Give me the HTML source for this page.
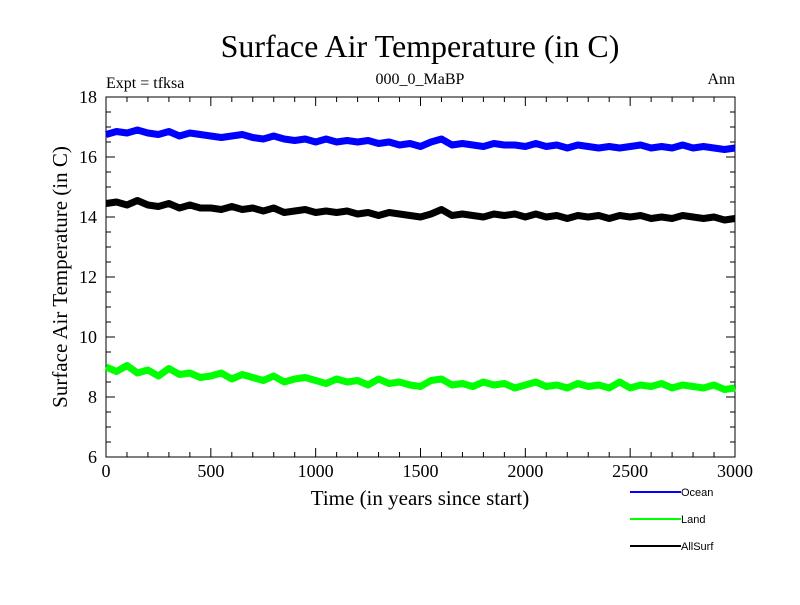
<!DOCTYPE html>
<html><head><meta charset="utf-8"><style>
body{margin:0;background:#fff;}
svg text{font-family:"Liberation Serif",serif;}
</style></head><body>
<svg id="chart" width="800" height="600" viewBox="0 0 800 600">
<rect width="800" height="600" fill="#fff"/>
<text x="420" y="57" font-size="32" text-anchor="middle">Surface Air Temperature (in C)</text>
<text x="106" y="88" font-size="16">Expt = tfksa</text>
<text x="420" y="84" font-size="16" text-anchor="middle">000_0_MaBP</text>
<text x="735" y="84" font-size="16" text-anchor="end">Ann</text>
<text x="420" y="505" font-size="21" text-anchor="middle">Time (in years since start)</text>
<text transform="translate(67,277) rotate(-90)" font-size="21" text-anchor="middle">Surface Air Temperature (in C)</text>
<g id="axes"></g>
<g id="series"></g>
<g id="legend"></g>
</svg>
<script>
const xTicks=[0,500,1000,1500,2000,2500,3000];
const yTicks=[6,8,10,12,14,16,18];
const seriesNames=["Ocean","Land","AllSurf"];
const seriesColors=["#0000ff","#00ff00","#000000"];
const ocean=[16.75,16.85,16.8,16.9,16.8,16.75,16.85,16.7,16.8,16.75,16.7,16.65,16.7,16.75,16.65,16.6,16.7,16.6,16.55,16.6,16.5,16.6,16.5,16.55,16.5,16.55,16.45,16.5,16.4,16.45,16.35,16.5,16.6,16.4,16.45,16.4,16.35,16.45,16.4,16.4,16.35,16.45,16.35,16.4,16.3,16.4,16.35,16.3,16.35,16.3,16.35,16.4,16.3,16.35,16.3,16.4,16.3,16.35,16.3,16.25,16.3];
const land=[9.0,8.85,9.05,8.8,8.9,8.7,8.95,8.75,8.8,8.65,8.7,8.8,8.6,8.75,8.65,8.55,8.7,8.5,8.6,8.65,8.55,8.45,8.6,8.5,8.55,8.4,8.6,8.45,8.5,8.4,8.35,8.55,8.6,8.4,8.45,8.35,8.5,8.4,8.45,8.3,8.4,8.5,8.35,8.4,8.3,8.45,8.35,8.4,8.3,8.5,8.3,8.4,8.35,8.45,8.3,8.4,8.35,8.3,8.4,8.25,8.3];
const allsurf=[14.45,14.5,14.4,14.55,14.4,14.35,14.45,14.3,14.4,14.3,14.3,14.25,14.35,14.25,14.3,14.2,14.3,14.15,14.2,14.25,14.15,14.2,14.15,14.2,14.1,14.15,14.05,14.15,14.1,14.05,14.0,14.1,14.25,14.05,14.1,14.05,14.0,14.1,14.05,14.1,14.0,14.1,14.0,14.05,13.95,14.05,14.0,14.05,13.95,14.05,14.0,14.05,13.95,14.0,13.95,14.05,14.0,13.95,14.0,13.9,13.95];
const years=[];for(let i=0;i<=60;i++)years.push(i*50);
const X0=106,X1=735,Y0=457,Y1=97;
const xs=v=>X0+(v-0)/3000*(X1-X0);
const ys=v=>Y0-(v-6)/12*(Y0-Y1);
const NS="http://www.w3.org/2000/svg";
function mk(t,a,p){const e=document.createElementNS(NS,t);for(const k in a)e.setAttribute(k,a[k]);p.appendChild(e);return e;}
const axes=document.getElementById('axes');
const frame=mk('rect',{x:X0,y:Y1,width:X1-X0,height:Y0-Y1,fill:'none',stroke:'#000','stroke-width':1},axes);


for(let v=0;v<=3000;v+=100){const maj=v%500===0;const L=maj?9:5;
mk('line',{x1:xs(v),x2:xs(v),y1:Y0,y2:Y0-L,stroke:'#000'},axes);
mk('line',{x1:xs(v),x2:xs(v),y1:Y1,y2:Y1+L,stroke:'#000'},axes);}
for(let v=6;v<=18;v+=0.5){const maj=v%2===0;const L=maj?9:5;
mk('line',{x1:X0,x2:X0+L,y1:ys(v),y2:ys(v),stroke:'#000'},axes);
mk('line',{x1:X1,x2:X1-L,y1:ys(v),y2:ys(v),stroke:'#000'},axes);}
xTicks.forEach(v=>{const t=mk('text',{x:xs(v),y:477,'font-size':18,'text-anchor':'middle'},axes);t.textContent=v;

});
yTicks.forEach(v=>{const t=mk('text',{x:97,y:ys(v)+6,'font-size':18,'text-anchor':'end'},axes);t.textContent=v;

});
const sg=document.getElementById('series');
[ocean,land,allsurf].forEach((arr,i)=>{
const d=arr.map((v,j)=>(j?'L':'M')+xs(years[j]).toFixed(1)+','+ys(v).toFixed(1)).join('');
const p=mk('path',{d:d,fill:'none',stroke:seriesColors[i],'stroke-width':7,'stroke-linejoin':'round'},sg);

});
const lg=document.getElementById('legend');
seriesNames.forEach((n,i)=>{const y=492+i*27;
const g=mk('g',{},lg);


mk('line',{x1:630,x2:681,y1:y,y2:y,stroke:seriesColors[i],'stroke-width':2},g);
const t=mk('text',{x:681,y:y+4,'font-size':11,style:'font-family:"Liberation Sans",sans-serif'},g);t.textContent=n;});
</script>
</body></html>
